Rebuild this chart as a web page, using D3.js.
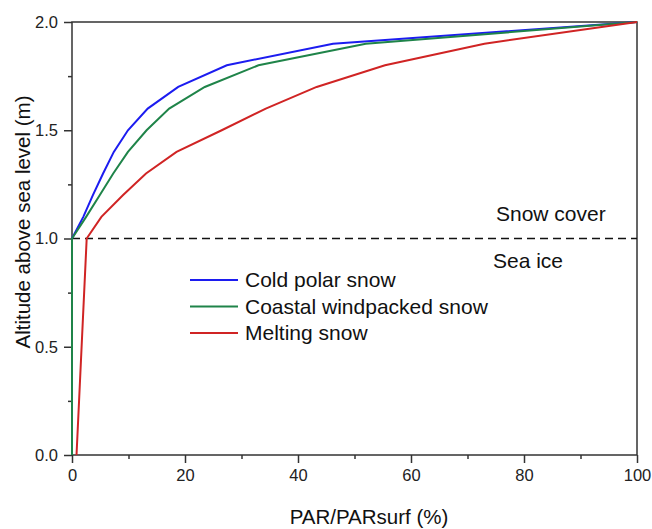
<!DOCTYPE html>
<html>
<head>
<meta charset="utf-8">
<script src="https://cdn.jsdelivr.net/npm/d3@7"></script>
<style>
  body { margin: 0; background: #fff; }
  svg { font-family: "Liberation Sans", Arial, sans-serif; }
</style>
</head>
<body>
<svg></svg>
<script>
// PAR profile through snow cover and sea ice
const altitude = [0, 1.0, 1.1, 1.2, 1.3, 1.4, 1.5, 1.6, 1.7, 1.8, 1.9, 2.0];
const coldPolar = [0, 0, 2.0, 3.7, 5.5, 7.4, 9.9, 13.4, 18.8, 27.4, 46.2, 100];
const coastal = [0, 0, 2.5, 4.9, 7.3, 9.9, 13.2, 17.2, 23.5, 33.0, 52.0, 100];
const melting = [0.8, 2.6, 5.2, 9.0, 13.1, 18.5, 26.5, 34.3, 43.3, 55.4, 73.0, 100];
const seriesNames = ["Cold polar snow", "Coastal windpacked snow", "Melting snow"];
const seriesColors = ["#1c1cf0", "#1f8449", "#d02424"];
const xTicks = [0, 20, 40, 60, 80, 100];
const xMinor = [10, 30, 50, 70, 90];
const yTicks = [0, 0.5, 1.0, 1.5, 2.0];
const yMinor = [0.25, 0.75, 1.25, 1.75];
const boundary = 1.0;

const width = 652, height = 529;
const svg = d3.select("svg").attr("width", width).attr("height", height);

const plotLeft = 72, plotRight = 637, plotTop = 22, plotBottom = 455;
const x = d3.scaleLinear().domain([0, 100]).range([plotLeft, plotRight]);
const y = d3.scaleLinear().domain([0, 2]).range([plotBottom, plotTop]);
const axisColor = "#333";

// minor ticks first
svg.append("g").attr("transform", `translate(0,${plotBottom})`)
  .call(d3.axisBottom(x).tickValues(xMinor).tickSize(4).tickFormat(""));
svg.append("g").attr("transform", `translate(${plotLeft},0)`)
  .call(d3.axisLeft(y).tickValues(yMinor).tickSize(4).tickFormat(""));

// major axes
svg.append("g").attr("transform", `translate(0,${plotBottom})`)
  .call(d3.axisBottom(x).tickValues(xTicks).tickSize(8).tickPadding(6).tickFormat(d3.format("d")))
  .call(g => g.selectAll("text").attr("font-size", 16.5).attr("fill", "#222"));
svg.append("g").attr("transform", `translate(${plotLeft},0)`)
  .call(d3.axisLeft(y).tickValues(yTicks).tickSize(8).tickPadding(6).tickFormat(d3.format(".1f")))
  .call(g => g.selectAll("text").attr("font-size", 16.5).attr("fill", "#222"));

svg.selectAll(".domain").remove();
svg.selectAll(".tick line").attr("stroke", axisColor).attr("stroke-width", 1.5);

// frame
svg.append("rect")
  .attr("x", plotLeft).attr("y", plotTop)
  .attr("width", plotRight - plotLeft).attr("height", plotBottom - plotTop)
  .attr("fill", "none").attr("stroke", axisColor).attr("stroke-width", 1.5);

// snow / ice boundary
svg.append("line")
  .attr("x1", x(0)).attr("x2", x(100))
  .attr("y1", y(boundary)).attr("y2", y(boundary))
  .attr("stroke", "#111").attr("stroke-width", 1.5)
  .attr("stroke-dasharray", "8,5");

// curves
const line = d3.line().x(d => x(d[0])).y(d => y(d[1]));
[coldPolar, coastal, melting].forEach((vals, i) => {
  svg.append("path")
    .datum(vals.map((v, j) => [v, altitude[j]]))
    .attr("d", line)
    .attr("fill", "none")
    .attr("stroke", seriesColors[i])
    .attr("stroke-width", 2);
});

// legend
const legend = svg.append("g");
seriesNames.forEach((name, i) => {
  const ly = 280 + i * 26.5;
  legend.append("line")
    .attr("x1", 190).attr("x2", 238).attr("y1", ly).attr("y2", ly)
    .attr("stroke", seriesColors[i]).attr("stroke-width", 2);
  legend.append("text")
    .attr("x", 245).attr("y", ly).attr("dy", "0.35em")
    .attr("font-size", 21).attr("fill", "#111")
    .text(name);
});

// annotations
svg.append("text").attr("x", 496).attr("y", 221)
  .attr("font-size", 21).attr("fill", "#111").text("Snow cover");
svg.append("text").attr("x", 493).attr("y", 268)
  .attr("font-size", 21).attr("fill", "#111").text("Sea ice");

// axis titles
svg.append("text")
  .attr("x", 369).attr("y", 524)
  .attr("text-anchor", "middle").attr("font-size", 20.5).attr("fill", "#111")
  .text("PAR/PARsurf (%)");
svg.append("text")
  .attr("transform", `translate(30,222) rotate(-90)`)
  .attr("text-anchor", "middle").attr("font-size", 20.5).attr("fill", "#111")
  .text("Altitude above sea level (m)");
</script>
</body>
</html>
